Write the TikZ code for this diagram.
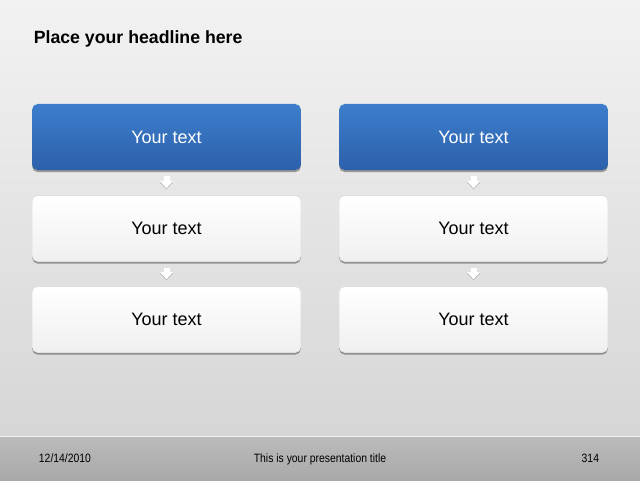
\documentclass[tikz,border=0pt]{standalone}
\usepackage{fontspec}
\setmainfont{Liberation Sans}
\newfontfamily\footfont[FakeStretch=0.86]{Liberation Sans}
\usetikzlibrary{shadows, arrows.meta}

\definecolor{bgtop}{HTML}{F2F2F2}
\definecolor{bgbot}{HTML}{D6D6D6}
\definecolor{foottop}{HTML}{BBBBBB}
\definecolor{footbot}{HTML}{A9A9A9}
\definecolor{bluetop}{HTML}{3C7ECC}
\definecolor{bluebot}{HTML}{2D60AB}

\tikzset{
	card/.style = {rounded corners = 4pt, minimum width = 6.72cm, minimum height = 1.65cm,
		font = \fontsize{12.8}{14}\selectfont,
		drop shadow = {shadow xshift = 0pt, shadow yshift = -1.5pt, opacity = 0.35, fill = black}},
	bluecard/.style = {card, top color = bluetop, bottom color = bluebot, text = white},
	whitecard/.style = {card, top color = white, bottom color = gray!12, draw = gray!25, text = black},
	flowarrow/.style = {white, line width = 0.15cm, shorten < = 0.15cm, shorten > = 0.17cm,
		-{Triangle[width = 0.32cm, length = 0.18cm]}},
	flowshadow/.style = {flowarrow, gray!70, transform canvas = {yshift = -0.6pt}},
	foottext/.style = {font = \footfont\fontsize{8.6}{10}\selectfont}
}

\begin{document}
\begin{tikzpicture}

	% Definitions

	\def\Xl{4.1625}		% Left column centre
	\def\Xr{11.8375}	% Right column centre
	\def\Yf{0.44}		% Footer text baseline

	\useasboundingbox (0, 0) rectangle (16, 12);

	% Slide background and footer band

	\shade [top color = bgtop, bottom color = bgbot] (0, 1.1) rectangle (16, 12);
	\shade [top color = foottop, bottom color = footbot] (0, 0) rectangle (16, 1.1);
	\draw [white!88!gray, line width = 0.4pt] (0, 1.1) -- (16, 1.1);

	% Headline

	\node [anchor = west, font = \bfseries\fontsize{12.6}{14}\selectfont] (headline) at (0.72, 11.02) {Place your headline here};

	% Boxes

	\foreach \c/\x in {l/\Xl, r/\Xr} {
		\node [bluecard] (\c1) at (\x, 8.575) {Your text};
		\node [whitecard] (\c2) at (\x, 6.2875) {Your text};
		\node [whitecard] (\c3) at (\x, 4.0125) {Your text};
	}

	% Arrows between boxes

	\foreach \c in {l, r}
		\foreach \a/\b in {1/2, 2/3} {
			\draw [flowshadow] (\c\a.south) -- (\c\b.north);
			\draw [flowarrow] (\c\a.south) -- (\c\b.north);
		}

	% Footer texts

	\node [foottext, anchor = base west] (date) at (0.85, \Yf) {12/14/2010};
	\node [foottext, anchor = base] (title) at (8, \Yf) {This is your presentation title};
	\node [foottext, anchor = base east] (page) at (15.1, \Yf) {314};

\end{tikzpicture}
\end{document}
